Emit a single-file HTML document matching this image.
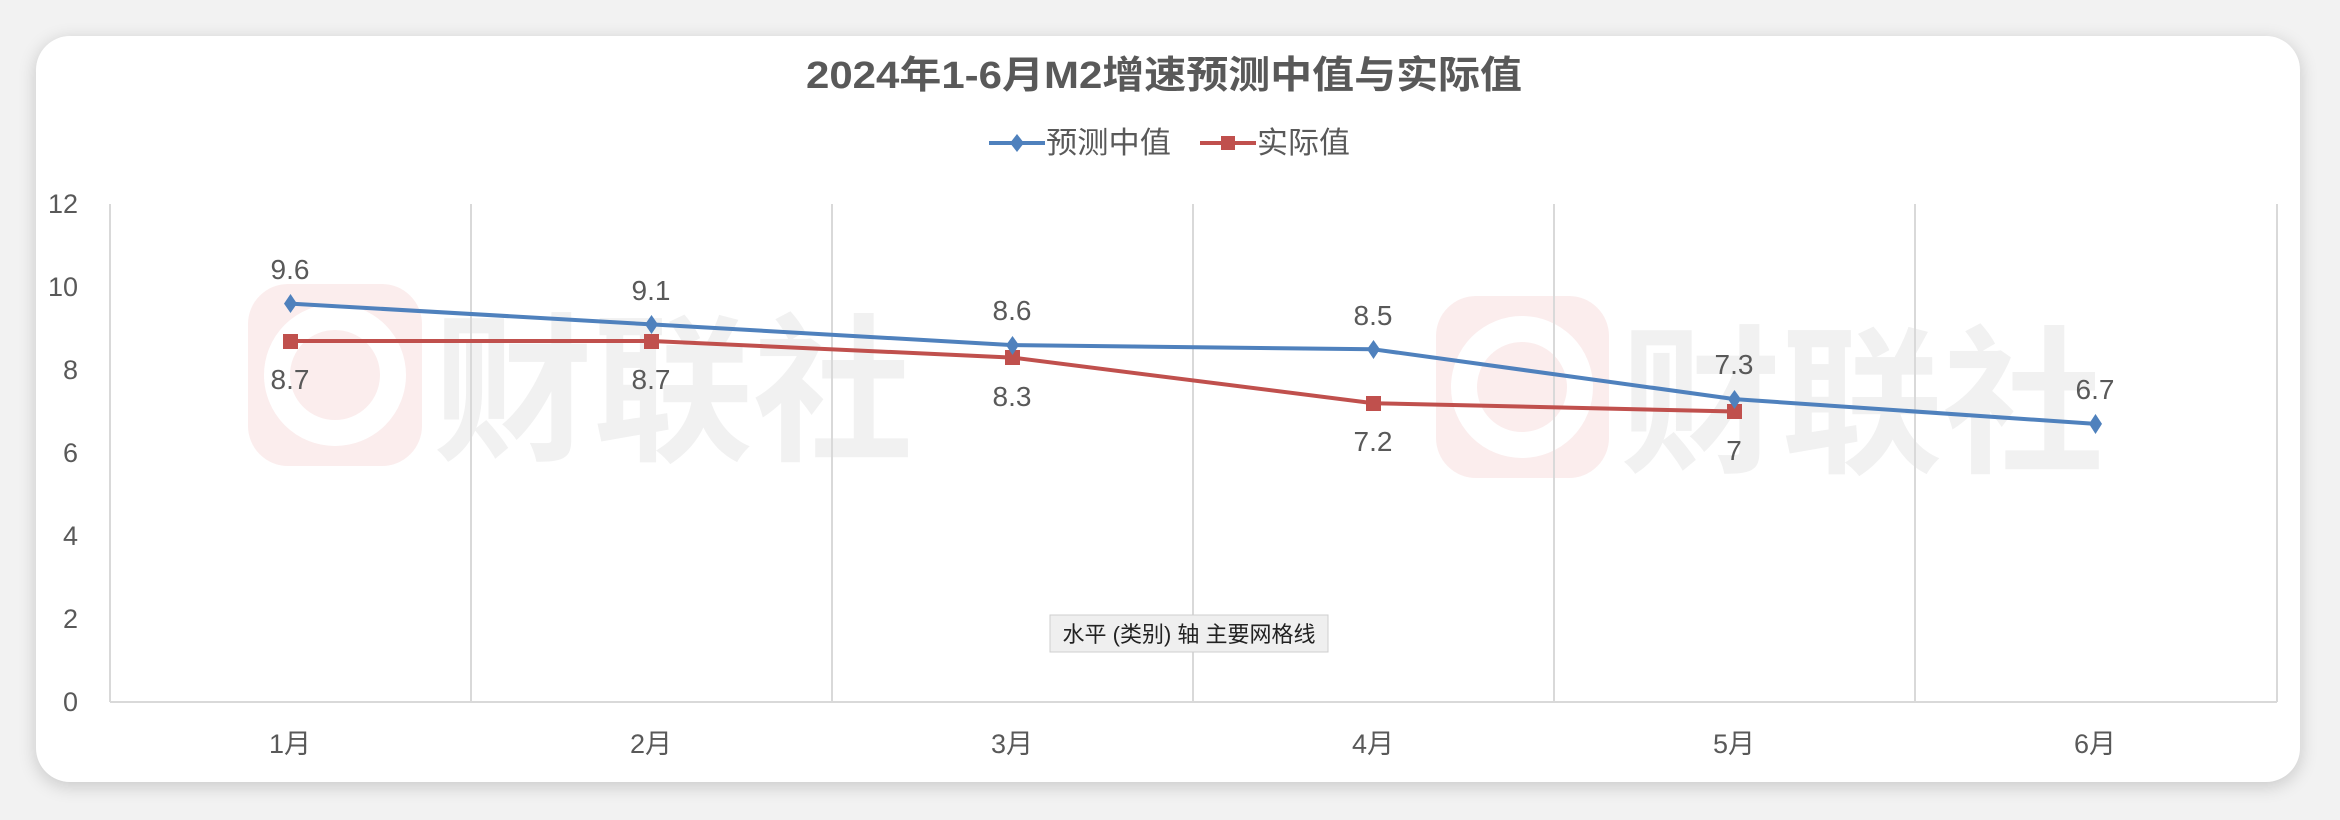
<!DOCTYPE html>
<html><head><meta charset="utf-8"><style>
html,body{margin:0;padding:0;background:#f2f2f2;}
body{width:2340px;height:820px;overflow:hidden;position:relative;}
.card{position:absolute;left:36px;top:36px;width:2264px;height:746px;background:#fff;border-radius:34px;box-shadow:0 4px 18px rgba(0,0,0,0.18);}
svg{position:absolute;left:0;top:0;}
text{font-family:"Liberation Sans","Noto Sans CJK SC",sans-serif;}
</style></head><body>
<div class="card"></div>
<svg width="2340" height="820" viewBox="0 0 2340 820">
<rect x="248" y="284" width="174" height="182" rx="40" fill="#fbeded"/>
<circle cx="335" cy="375" r="58" fill="none" stroke="#fff" stroke-width="26"/>
<text x="433" y="448" font-size="160" font-weight="bold" fill="#f1f1f1" textLength="480" lengthAdjust="spacingAndGlyphs">财联社</text>
<rect x="1436" y="296" width="173" height="182" rx="40" fill="#fbeded"/>
<circle cx="1522" cy="387" r="58" fill="none" stroke="#fff" stroke-width="26"/>
<text x="1620" y="460" font-size="160" font-weight="bold" fill="#f1f1f1" textLength="484" lengthAdjust="spacingAndGlyphs">财联社</text>
<g stroke="#d9d9d9" stroke-width="2">
<line x1="110" y1="204" x2="110" y2="702"/>
<line x1="471" y1="204" x2="471" y2="702"/>
<line x1="832" y1="204" x2="832" y2="702"/>
<line x1="1193" y1="204" x2="1193" y2="702"/>
<line x1="1554" y1="204" x2="1554" y2="702"/>
<line x1="1915" y1="204" x2="1915" y2="702"/>
<line x1="2277" y1="204" x2="2277" y2="702"/>
<line x1="110" y1="702" x2="2277" y2="702"/>
</g>
<text x="806" y="88" font-size="38" font-weight="bold" fill="#595959" textLength="716" lengthAdjust="spacingAndGlyphs">2024年1-6月M2增速预测中值与实际值</text>
<line x1="989" y1="143" x2="1045" y2="143" stroke="#4f81bd" stroke-width="4"/>
<path d="M1017 134 L1024 143 L1017 152 L1010 143Z" fill="#4f81bd"/>
<text x="1046" y="153" font-size="30" fill="#595959" textLength="125" lengthAdjust="spacingAndGlyphs">预测中值</text>
<line x1="1200" y1="143" x2="1256" y2="143" stroke="#c0504d" stroke-width="4"/>
<rect x="1221" y="136" width="14" height="14" fill="#c0504d"/>
<text x="1257" y="153" font-size="30" fill="#595959" textLength="93" lengthAdjust="spacingAndGlyphs">实际值</text>
<g font-size="27" fill="#595959" text-anchor="end">
<text x="78" y="213">12</text><text x="78" y="296">10</text><text x="78" y="379">8</text>
<text x="78" y="462">6</text><text x="78" y="545">4</text><text x="78" y="628">2</text><text x="78" y="711">0</text>
</g>
<g font-size="27" fill="#595959" text-anchor="middle">
<text x="290" y="753">1月</text><text x="651" y="753">2月</text><text x="1012" y="753">3月</text>
<text x="1373" y="753">4月</text><text x="1734" y="753">5月</text><text x="2095" y="753">6月</text>
</g>
<polyline points="290.5,341 651.5,341 1012.5,357.6 1373.5,403.2 1734.5,411.5" fill="none" stroke="#c0504d" stroke-width="4"/>
<polyline points="290.5,303.6 651.5,324.4 1012.5,345.1 1373.5,349.3 1734.5,399.1 2095.5,423.9" fill="none" stroke="#4f81bd" stroke-width="4" stroke-linejoin="round"/>
<g fill="#c0504d">
<rect x="283" y="334" width="15" height="15"/><rect x="644" y="334" width="15" height="15"/>
<rect x="1005" y="350" width="15" height="15"/><rect x="1366" y="396" width="15" height="15"/>
<rect x="1727" y="404" width="15" height="15"/>
</g>
<g fill="#4f81bd">
<path d="M290.5 294 L297 303.6 L290.5 313 L284 303.6Z"/>
<path d="M651.5 315 L658 324.4 L651.5 334 L645 324.4Z"/>
<path d="M1012.5 336 L1019 345.1 L1012.5 355 L1006 345.1Z"/>
<path d="M1373.5 340 L1380 349.3 L1373.5 359 L1367 349.3Z"/>
<path d="M1734.5 390 L1741 399.1 L1734.5 409 L1728 399.1Z"/>
<path d="M2095.5 414 L2102 423.9 L2095.5 434 L2089 423.9Z"/>
</g>
<g font-size="28" fill="#595959" text-anchor="middle">
<text x="290" y="279">9.6</text><text x="651" y="300">9.1</text><text x="1012" y="320">8.6</text>
<text x="1373" y="325">8.5</text><text x="1734" y="374">7.3</text><text x="2095" y="399">6.7</text>
<text x="290" y="389">8.7</text><text x="651" y="389">8.7</text><text x="1012" y="406">8.3</text>
<text x="1373" y="451">7.2</text><text x="1734" y="460">7</text>
</g>
<rect x="1050" y="615" width="278" height="37" fill="#efefef" stroke="#cfcfcf" stroke-width="1"/>
<text x="1189" y="642" font-size="22" fill="#222" text-anchor="middle">水平 (类别) 轴 主要网格线</text>
</svg>
</body></html>
